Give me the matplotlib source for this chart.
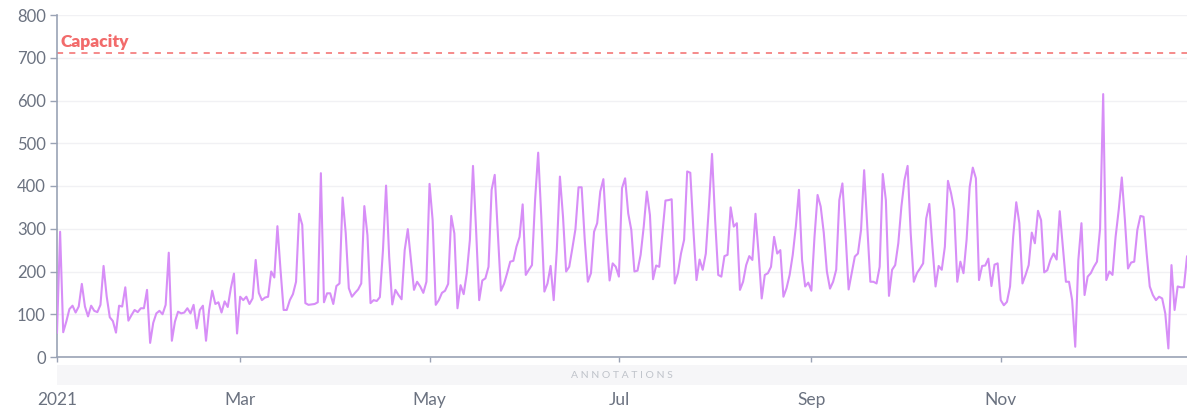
import matplotlib.pyplot as plt
import matplotlib.dates as mdates
from matplotlib.patches import Rectangle
import numpy as np
import pandas as pd

plt.rcParams['font.family'] = ['Lato', 'DejaVu Sans']

# daily values for 2021
jan_feb = [57, 293, 58, 83, 112, 120, 104, 118, 171, 118,
           95, 120, 108, 105, 122, 213, 142, 93, 84, 57,
           120, 118, 163, 85, 98, 110, 105, 114, 114, 157,
           33, 80, 102, 108, 100, 122, 244, 38, 83, 106,
           102, 104, 114, 102, 122, 67, 110, 120, 38, 110,
           155, 124, 128, 104, 130, 117, 161, 195, 55]
mar_apr = [141, 133, 141, 124, 137, 227, 150, 133, 139, 141,
           200, 186, 306, 204, 110, 110, 133, 147, 176, 335,
           309, 126, 122, 123, 124, 128, 430, 128, 149, 149,
           124, 166, 172, 373, 290, 161, 141, 150, 158, 172,
           353, 285, 126, 133, 131, 140, 250, 401, 235, 123,
           157, 145, 135, 250, 299, 227, 157, 176, 165, 150,
           176]
may_jun = [405, 320, 122, 133, 150, 155, 171, 330, 289, 114,
           168, 147, 196, 274, 447, 297, 133, 179, 184, 211,
           391, 426, 289, 155, 171, 196, 223, 225, 258, 281,
           357, 192, 204, 215, 367, 478, 328, 153, 172, 213,
           133, 250, 422, 328, 200, 211, 254, 299, 397, 397,
           274, 176, 196, 293, 313, 387, 416, 289, 179, 219,
           211]
jul_aug = [188, 395, 418, 336, 297, 200, 202, 239, 305, 387,
           332, 182, 214, 211, 289, 366, 367, 369, 172, 196,
           242, 274, 434, 431, 297, 180, 228, 204, 242, 352,
           475, 320, 192, 188, 236, 239, 350, 305, 313, 157,
           176, 215, 236, 227, 335, 242, 137, 192, 196, 211,
           281, 242, 250, 141, 161, 192, 239, 305, 391, 227,
           165, 174]
sep_oct = [155, 280, 379, 352, 290, 200, 160, 176, 204, 367,
           406, 289, 158, 196, 235, 242, 297, 437, 305, 176,
           176, 172, 211, 428, 367, 143, 204, 215, 266, 352,
           414, 447, 289, 176, 196, 207, 219, 324, 358, 258,
           165, 213, 204, 258, 412, 383, 344, 176, 223, 196,
           274, 398, 443, 418, 180, 213, 214, 230, 166, 216,
           219]
nov_dec = [133, 121, 129, 165, 281, 362, 313, 172, 192, 215,
           291, 266, 342, 320, 198, 203, 227, 242, 228, 341,
           258, 176, 176, 133, 24, 227, 313, 145, 188, 196,
           211, 223, 300, 615, 180, 200, 192, 281, 344, 420,
           320, 207, 221, 223, 297, 330, 328, 242, 165, 145,
           133, 141, 137, 102, 20, 215, 110, 165, 163, 163,
           235]

values = jan_feb + mar_apr + may_jun + jul_aug + sep_oct + nov_dec
dates = pd.date_range('2021-01-01', periods=len(values), freq='D')
capacity = 710
tick_dates = pd.to_datetime(['2021-01-01', '2021-03-01', '2021-05-01',
                             '2021-07-01', '2021-09-01', '2021-11-01'])
tick_labels = ['2021', 'Mar', 'May', 'Jul', 'Sep', 'Nov']

axis_col = '#9aa3b5'
text_col = '#6b7280'

fig = plt.figure(figsize=(11.87, 4.09), dpi=100)
ax = fig.add_axes([57 / 1187, 1 - 357 / 409, 1130 / 1187, 342 / 409])

ax.plot(dates, values, color='#d78ef7', lw=1.5, zorder=3)
ax.axhline(capacity, color='#f26b6b', lw=1.1, ls=(0, (4, 4)), zorder=2)
ax.text(dates[0] + pd.Timedelta(days=1.2), capacity + 8, 'Capacity',
        color='#f26b6b', fontsize=12.5, fontweight='heavy', va='bottom', ha='left')

ax.set_ylim(0, 800)
ax.set_yticks(np.arange(0, 801, 100))
ax.set_xlim(dates[0], dates[-1])
ax.set_xticks(tick_dates)
ax.set_xticklabels(tick_labels)

ax.grid(axis='y', color='#f1f1f4', lw=1)
ax.set_axisbelow(True)
for s in ['top', 'right']:
    ax.spines[s].set_visible(False)
for s in ['left', 'bottom']:
    ax.spines[s].set_color(axis_col)
    ax.spines[s].set_linewidth(1.2)

ax.tick_params(axis='y', colors=axis_col, length=5, width=1, pad=3, labelsize=12, labelcolor=text_col)
ax.tick_params(axis='x', colors=axis_col, length=3.5, width=1, pad=22, labelsize=12.5, labelcolor=text_col)

# annotations band under the axis
ax.add_patch(Rectangle((0, -28 / 342), 1, 20 / 342, transform=ax.transAxes,
                       facecolor='#f6f6f8', edgecolor='none', clip_on=False, zorder=0))
ax.text(0.5, -18 / 342, 'A N N O T A T I O N S', transform=ax.transAxes, ha='center', va='center',
        fontsize=7.5, color='#bfc3ca')

fig.savefig('out.png', dpi=100)
